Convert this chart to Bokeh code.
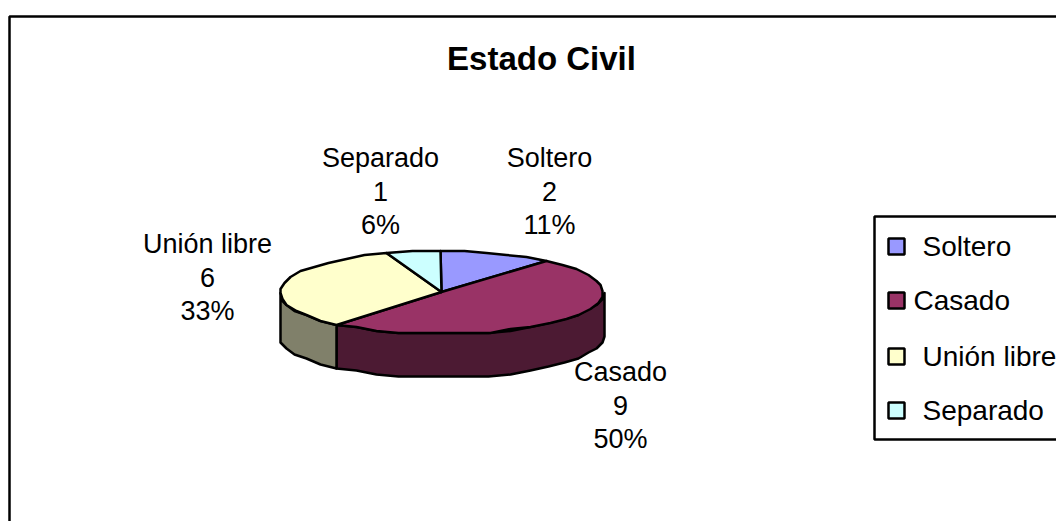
import math
from bokeh.plotting import figure
from bokeh.models import Range1d
from bokeh.core.properties import value
from bokeh.embed import file_html
from bokeh.resources import INLINE

categories = ["Soltero", "Casado", "Unión libre", "Separado"]
counts = [2, 9, 6, 1]
top_colors = ["#9999FF", "#993366", "#FFFFCC", "#CCFFFF"]
side_colors = ["#4D4D80", "#4C1A33", "#80806A", "#668080"]
title = "Estado Civil"

FONT = value("Liberation Sans")
CX, CY, RX, RY, DEPTH = 441, 291.5, 162, 41.5, 43.5
SNAP = 2.0

p = figure(width=1056, height=521, output_backend="svg", toolbar_location=None,
           x_range=Range1d(0, 1056), y_range=Range1d(521, 0),
           x_axis_location=None, y_axis_location=None, min_border=0,
           outline_line_color=None, background_fill_color="white", border_fill_color="white")
p.grid.visible = False


def rim(a0, a1, dy=0.0):
    """Ellipse points, clockwise from north, snapped to a coarse grid like the original's low-res outline."""
    step = 8.0
    n = max(1, int(round((a1 - a0) / step)))
    out = []
    for i in range(n + 1):
        a = math.radians(a0 + (a1 - a0) * i / n)
        x = CX + RX * math.sin(a)
        y = CY - RY * math.cos(a)
        out.append((round(x / SNAP) * SNAP, round(y / SNAP) * SNAP + 0.5 + dy))
    return out


p.line([9, 9, 1070], [530, 16, 16], line_color="black", line_width=2.5)

total = sum(counts)
angles = [0.0]
for c in counts:
    angles.append(angles[-1] + 360.0 * c / total)

for i in range(len(counts)):
    a0, a1 = max(angles[i], 90.0), min(angles[i + 1], 270.0)
    if a1 <= a0:
        continue
    pts = rim(a0, a1) + rim(a0, a1, DEPTH)[::-1]
    p.patch([q[0] for q in pts], [q[1] for q in pts], fill_color=side_colors[i],
            line_color="black", line_width=2.5, line_join="round")

for i in range(len(counts)):
    pts = [(CX, CY)] + rim(angles[i], angles[i + 1])
    p.patch([q[0] for q in pts], [q[1] for q in pts], fill_color=top_colors[i],
            line_color="black", line_width=2.5, line_join="round")

p.text([541], [57.5], text=[title], text_font=FONT, text_font_size="33px", text_font_style="bold",
       text_align="center", text_baseline="middle", text_color="black")

label_pos = [(549, 157), (620, 371.5), (207, 243.5), (380, 157)]
for i, (lx, ly) in enumerate(label_pos):
    lines = [categories[i], str(counts[i]), f"{round(100 * counts[i] / total)}%"]
    for j, t in enumerate(lines):
        p.text([lx], [ly + j * 33.7], text=[t], text_font=FONT, text_font_size="27px",
               text_align="center", text_baseline="middle", text_color="black")

p.line([1070, 874, 874, 1070], [216, 216, 439, 439], line_color="black", line_width=2.5)
legend_y = [246, 300, 356, 410]
legend_x = [922, 913, 922, 922]
for i, name in enumerate(categories):
    p.scatter([896], [legend_y[i]], marker="square", size=16, fill_color=top_colors[i],
              line_color="black", line_width=2.5)
    p.text([legend_x[i]], [legend_y[i]], text=[name], text_font=FONT, text_font_size="28px",
           text_align="left", text_baseline="middle", text_color="black")

open("out.html", "w").write(file_html(p, INLINE))
